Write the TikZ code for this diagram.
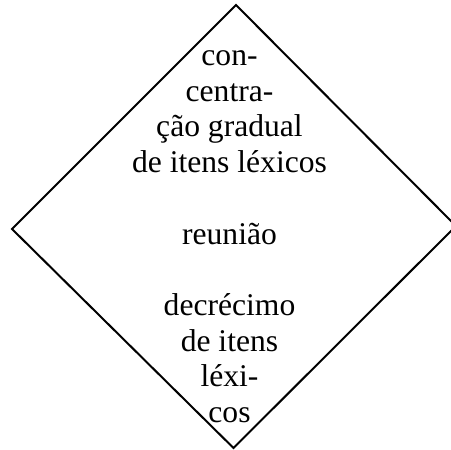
\documentclass[tikz,border=0pt]{standalone}
\usepackage{fontspec}
\setmainfont{Liberation Serif}
\begin{document}
\begin{tikzpicture}[x=1pt,y=1pt,
  shapeline/.style={line width=2pt,line join=miter},
  bodytext/.style={align=center,inner sep=0pt,font=\fontsize{31.6}{35.7}\selectfont}]
\useasboundingbox (0,0) rectangle (451,450);
\coordinate (top) at (236,445);
\coordinate (left) at (12,221);
\coordinate (bottom) at (233.5,2);
\coordinate (right) at (456,224);
\draw[shapeline] (top) -- (right) -- (bottom) -- (left) -- cycle;
\node[bodytext,anchor=north] (txt) at (229.5,399.5)
  {con-\\centra-\\ção gradual\\de itens léxicos\\[35.7pt]reunião\\[35.7pt]decrécimo\\de itens\\léxi-\\cos};
\end{tikzpicture}
\end{document}
